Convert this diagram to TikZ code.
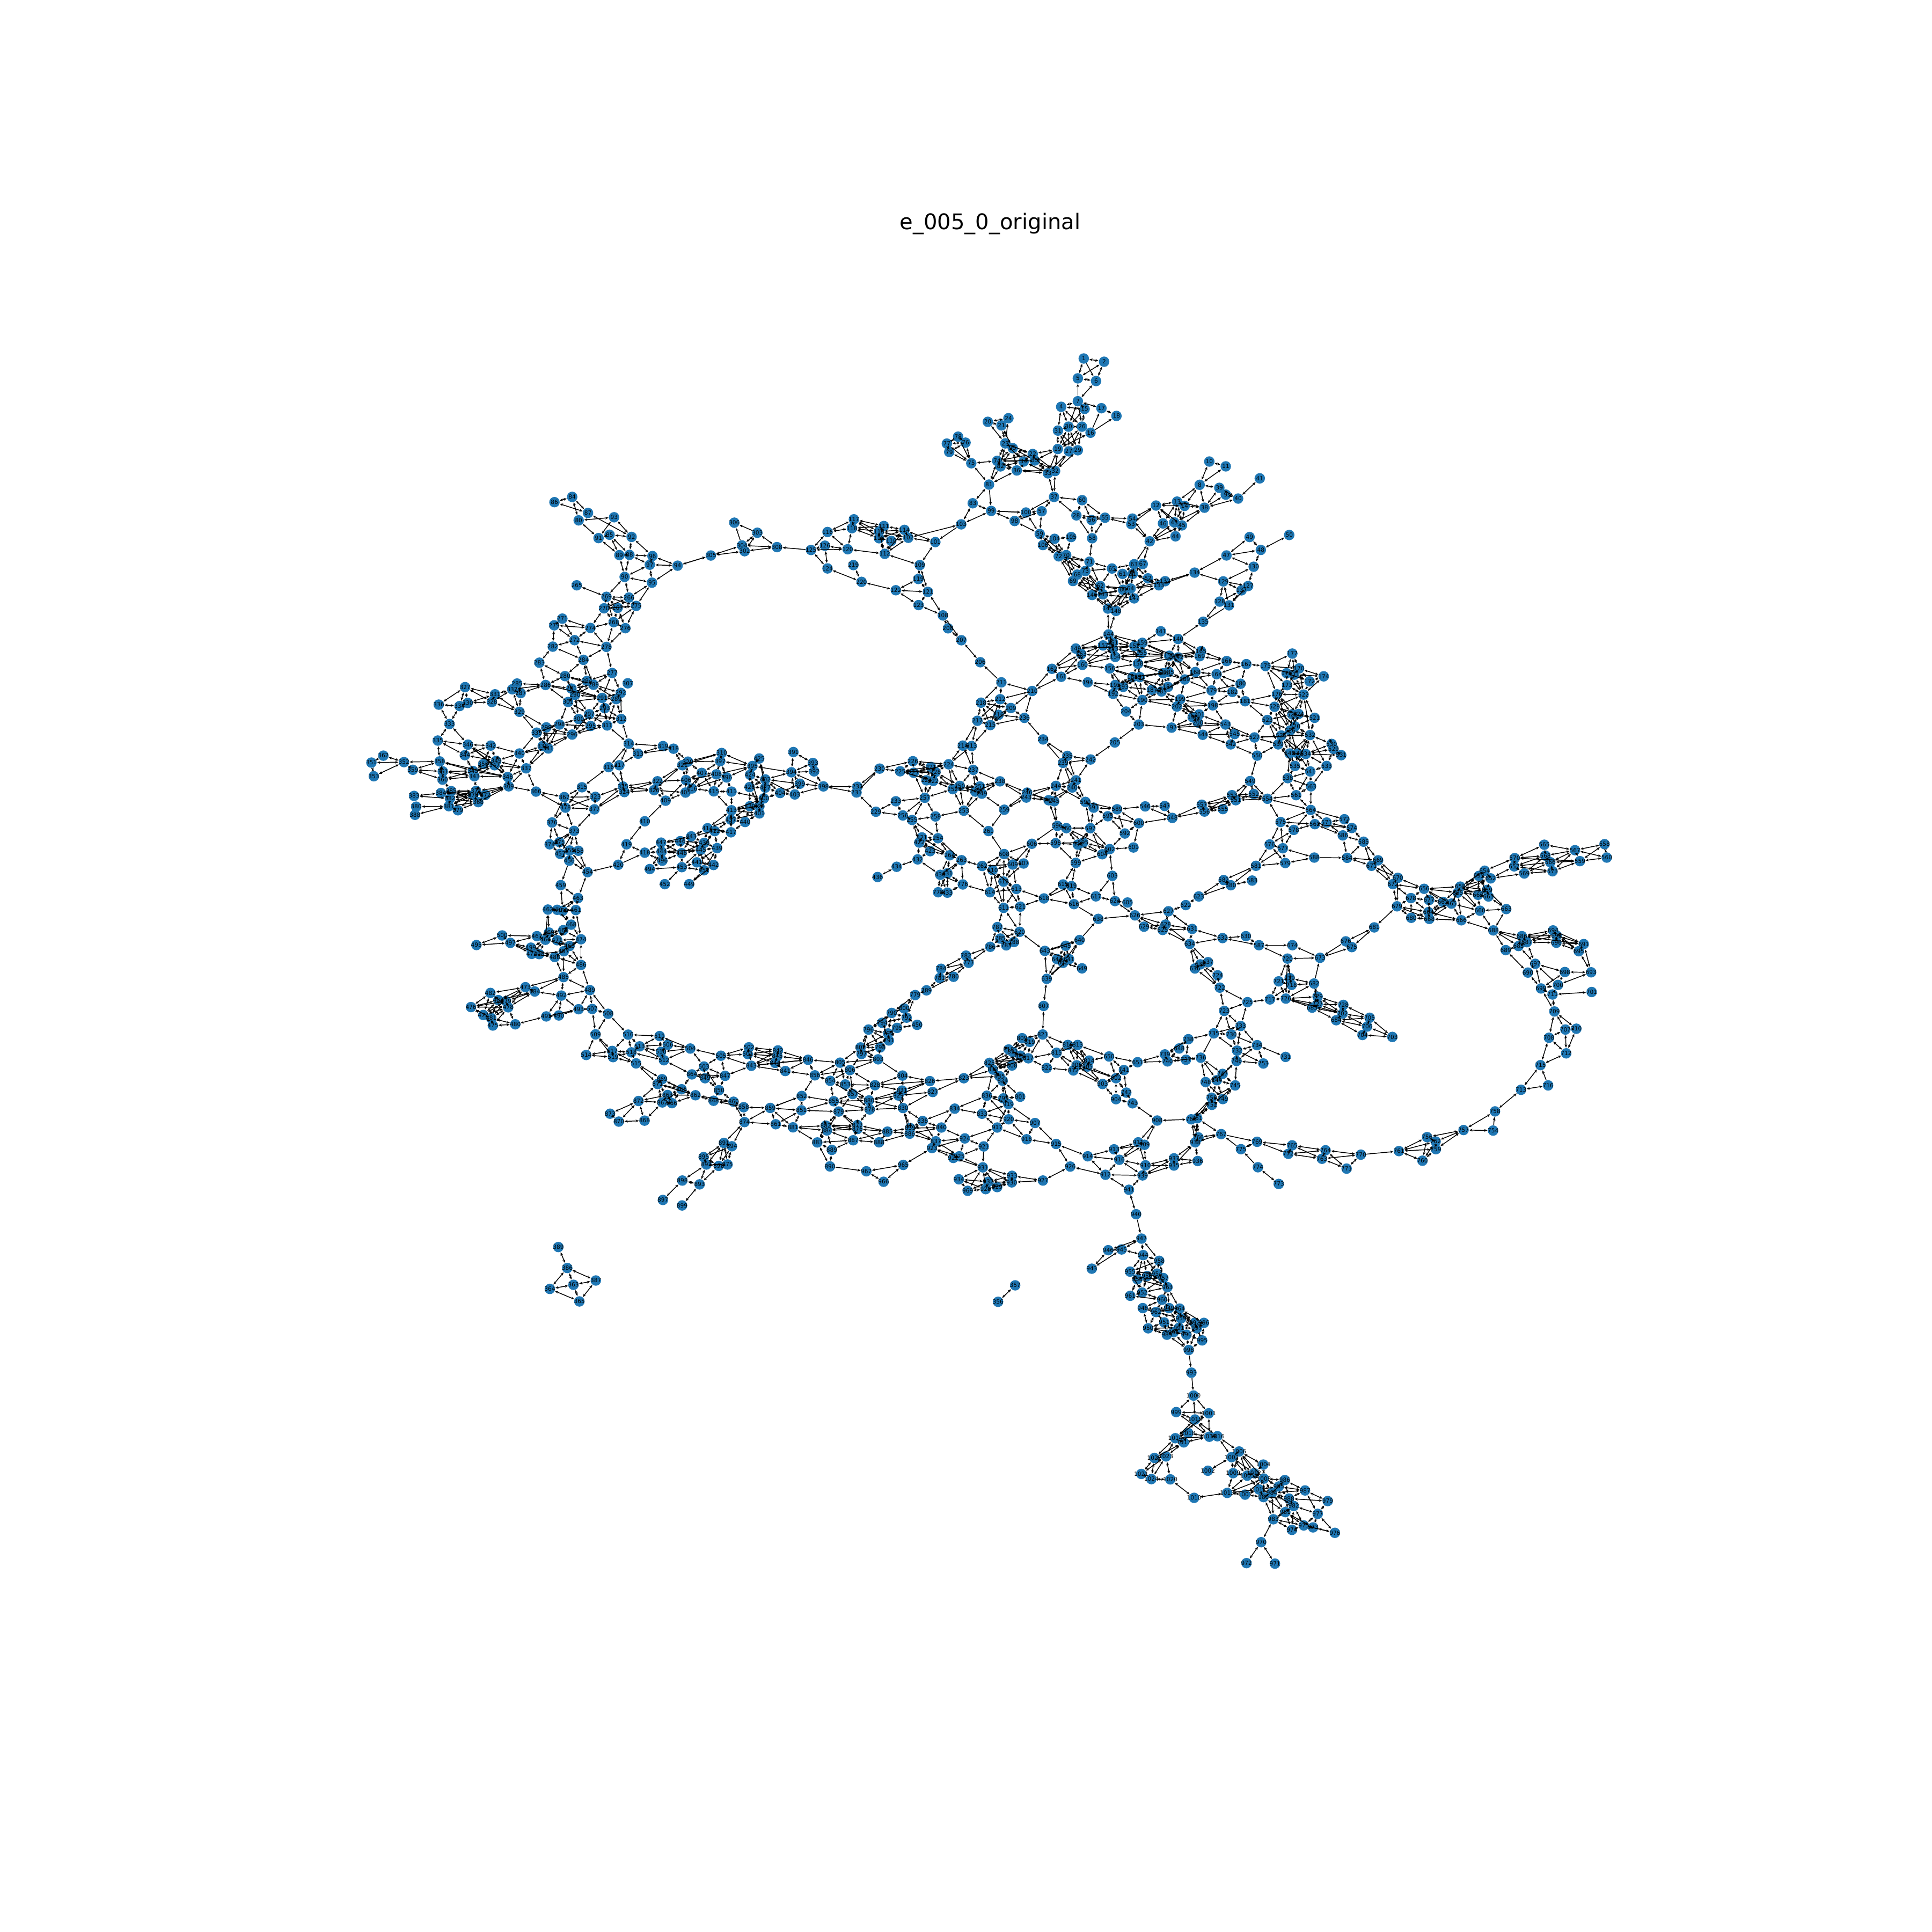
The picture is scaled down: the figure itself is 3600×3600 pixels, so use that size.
\documentclass[tikz,border=0pt]{standalone}
\usepackage{fontspec}
\setmainfont{DejaVu Sans}
\usetikzlibrary{arrows.meta}
\definecolor{CB}{RGB}{31,119,180}
\tikzset{
  vertex/.style={circle, fill=CB, inner sep=0pt, minimum size=1.95mm},
  vlabel/.style={font=\fontsize{3}{3}\selectfont, text=black, inner sep=0pt},
  link/.style={{Stealth[length=1.7pt,width=1.4pt]}-{Stealth[length=1.7pt,width=1.4pt]}, line width=0.42pt},
  onelink/.style={-{Stealth[length=1.7pt,width=1.4pt]}, line width=0.42pt}
}
\gdef\labelqueue{}
\newcommand{\vertices}[5]{%
  \foreach \id/\px/\py in {#5}{
    \node[vertex] (n\id) at ({#1+\px/#3},{#2+\py/#4}) {};
    \xdef\labelqueue{\unexpanded\expandafter{\labelqueue}\noexpand\node[vlabel] (t\id) at (n\id) {\id};}
  }}
\newcommand{\links}[2]{%
  \foreach \a/\b in {#2}{%
    \ifcsname pgf@sh@ns@n\a\endcsname\ifcsname pgf@sh@ns@n\b\endcsname
      \draw[#1] (n\a) -- (n\b);
    \fi\fi}}
\begin{document}
\begin{tikzpicture}[x=0.1mm,y=-0.1mm]
\useasboundingbox (0,0) rectangle (3600,3600);
\node[font=\fontsize{11.4}{12}\selectfont] (title) at (1845,417) {e\_005\_0\_original};

% Vertices, top
\vertices{1900}{640}{3}{3}{1/358/84,2/472/102,5/325/195,6/427/210,7/325/323,4/232/354,15/363/366,17/457/362,18/541/405,31/214/487,30/273/465,26/348/465,16/396/499,19/213/590,27/275/603,29/325/597,22/73/618,35/84/654,34/22/660,32/198/713,33/158/726,37/192/858,60/349/876,100/35/945,57/123/938,28/317/961,56/402/987,55/477/974,54/630/979,53/624/1010,58/405/1089,59/112/1065,104/195/1092,105/288/1082,106/130/1127,72/218/1190,70/260/1183,71/390/1220,73/367/1272,68/322/1292,69/298/1328,65/516/1258,63/640/1234,67/688/1233,61/575/1288,51/632/1288,52/717/1313,132/813/1329,133/778/1352,62/450/1356,66/578/1377,64/620/1370,143/465/1402,146/405/1406,147/640/1425,145/493/1482,148/538/1495,12/762/906,13/880/884,14/922/908,38/1033/918,46/801/1006,43/864/1000,45/907/1017,44/871/1078,42/727/1106,8/1006/790,10/1060/660,11/1152/687,39/1116/807,9/1152/845,40/1221/867,41/1342/754,47/1156/1185,48/1348/1154,49/1285/1082,130/1308/1248,134/978/1281,129/1138/1330,127/1277/1356,137/1240/1380,128/1118/1443,131/1170/1464}
% Vertices, right middle
\vertices{2000}{800}{2.24}{2.24}{50/901/441,135/542/803,144/147/856,141/365/843,140/437/875,159/288/891,151/165/890,152/255/905,157/124/902,149/10/915,153/165/916,154/175/950,155/285/934,163/33/938,150/400/945,142/438/952,165/533/926,169/527/947,158/270/978,160/38/983,166/640/967,167/722/980,175/802/988,177/914/936,170/942/998,174/1045/1031,178/890/1018,171/922/1024,172/986/1052,173/892/1068,156/152/998,168/509/1013,164/598/1022,186/375/1018,185/398/1013,188/247/1034,191/277/1034,194/60/1056,195/175/1067,193/208/1075,189/465/1044,180/698/1062,184/395/1075,187/328/1087,183/368/1094,192/166/1104,179/577/1090,182/664/1096,176/850/1106,522/961/1107,190/288/1130,199/446/1127,181/717/1135,202/432/1157,198/582/1152,528/840/1158,201/525/1190,196/498/1202,200/520/1224,204/220/1178,203/273/1232,197/410/1245,523/810/1213,525/914/1190,524/940/1188,521/1007/1204,543/635/1232,520/925/1240,526/905/1257,544/540/1275,545/673/1272,527/756/1286,536/868/1278,532/988/1276,530/1078/1313,529/1086/1334,531/1118/1360,542/657/1315,539/855/1315,550/767/1362,540/903/1353,537/937/1353,534/970/1355,533/1057/1405,535/925/1405,541/989/1428,538/895/1456,205/173/1307,242/72/1378,549/738/1468,563/992/1490,553/662/1527,552/753/1522,551/678/1548,554/810/1542,561/930/1527}
% Vertices, centre
\vertices{1600}{1100}{2.613}{2.613}{108/410/122,208/435/185,207/500/243,206/592/350,211/695/448,210/845/490,162/941/382,161/986/421,212/689/530,218/596/547,209/741/573,216/681/606,236/807/621,217/578/635,215/641/656,234/898/726,214/507/756,213/550/758,235/1016/806,239/995/840,224/438/847,226/264/832,221/352/860,228/374/885,225/202/881,227/268/888,230/102/868,237/558/874,223/330/925,222/363/928,238/688/930,241/1058/925,244/960/952,240/1040/960,250/492/952,251/590/955,252/458/968,248/568/980,249/600/990,246/820/985,243/816/1009,247/925/1022,245/952/1027,257/322/1010,233/181/1027,229/84/1078,253/512/1073,259/709/1068,590/1104/1030,591/1144/1058,589/1258/1066,546/1395/1052,547/1490/1050,548/1527/1108,593/1213/1100,600/1364/1134,256/215/1096,258/374/1101,255/260/1118,596/967/1147,260/1011/1158,597/1128/1158,592/1296/1184,261/632/1172,421/308/1203,254/386/1207,422/295/1228,606/843/1234,598/959/1231,594/1067/1238,595/1093/1228,602/1222/1260,601/1338/1252,423/348/1270,264/443/1290,608/708/1284,604/1186/1285,263/501/1314,432/287/1310,262/601/1342,609/750/1335,607/803/1330,434/185/1346,599/1057/1327,610/652/1362,436/92/1396,430/397/1385,431/432/1378,603/1235/1390,612/705/1418,776/507/1432,615/995/1432,619/1036/1440,613/768/1454,778/387/1470,433/432/1472,614/639/1470,618/902/1500,617/1155/1490,624/1248/1513,605/1309/1520,616/1048/1528,611/706/1546,621/787/1540}
% Vertices, upper left
\vertices{1300}{640}{2.24}{2.24}{20/1211/327,24/1297/312,21/1268/342,78/1087/389,77/1040/418,76/1118/414,79/1050/453,23/1284/417,25/1315/437,75/1142/500,74/1250/490,82/1264/513,36/1332/530,81/1216/589,83/1148/667,99/1225/699,103/1100/755,98/1323/741,101/992/829,117/652/734,111/777/762,118/644/771,116/542/787,113/757/785,114/863/778,115/757/813,110/808/824,102/879/811,126/531/844,125/473/862,120/626/859,112/781/878,109/927/925,119/921/983,219/650/925,124/542/939,220/684/995,122/827/1030,121/961/1037,123/922/1092,306/153/748,303/249/790,304/185/843,302/196/867,308/331/850,305/55/885}
% Vertices, left
\vertices{680}{900}{2.24}{2.24}{84/865/58,86/791/80,87/931/125,80/892/156,93/1040/143,85/1021/216,92/1113/225,91/975/230,89/1062/301,88/1104/300,96/1200/305,97/1189/341,94/1305/345,90/1084/392,95/1198/416,265/884/427,269/1008/475,266/1102/478,275/1132/513,270/998/523,267/1055/521,271/824/566,268/1038/581,273/790/594,274/941/605,276/1087/606,272/875/656,278/1008/684,282/784/683,284/912/738,283/728/750,277/1032/793,280/835/806,307/1097/836,294/927/826,288/954/842,285/635/837,286/754/843,327/418/852,281/862/858,332/615/861,287/650/877,292/1068/876,331/543/882,290/877/884,291/990/897,289/1049/902,328/530/914,330/429/918,336/308/925,334/395/931,301/848/914,293/1001/940,329/645/955,297/936/965,300/892/985,312/1070/985,333/353/1006,298/812/1008,295/942/1014,311/1011/1012,299/757/1020,339/717/1042,296/865/1050,335/304/1075,346/430/1092,314/1101/1088,342/525/1096,338/742/1098,341/765/1108,319/1244/1098,318/1288/1109,313/1140/1130,344/417/1136,340/645/1129,310/1489/1127,362/77/1138,320/1348/1163,397/1483/1161,351/27/1167,352/163/1165,358/312/1162,349/548/1160,350/494/1173,321/1325/1178,347/541/1178,317/1062/1178,316/1017/1186,337/673/1191,359/200/1197,361/325/1204,345/451/1202,407/1406/1210,408/1467/1216,396/1510/1229,353/37/1224,343/457/1224,348/596/1227,360/324/1238,322/1221/1245,406/1340/1240,369/600/1266,325/1077/1267,315/906/1270,371/464/1285,416/1365/1275,366/714/1288,415/1456/1287,411/1530/1288,385/360/1286,384/317/1294,326/1207/1282,324/1083/1290,405/1338/1292,370/452/1303,372/503/1302,383/205/1306,382/355/1317,367/832/1311,323/962/1310,409/1255/1326,368/473/1332,381/350/1349,380/214/1351,378/837/1355,377/958/1362,413/1530/1366,379/388/1366,388/209/1385,410/1168/1412,437/1527/1405,376/781/1417,414/1430/1441,412/1460/1453,373/873/1452,417/1528/1458,443/1362/1475,446/1316/1495,438/1416/1502,447/1236/1501,375/812/1499,374/771/1508,419/1092/1508,439/1470/1524,445/1402/1531,458/891/1535,455/854/1534,444/1238/1539,418/1168/1543,448/1322/1545,457/815/1548}
\vertices{1300}{1340}{3}{3}{425/344/220,395/306/262,391/535/184,393/644/245,394/524/297,392/651/292,424/293/311,402/378/337,399/571/361,398/703/376,426/290/380,427/378/383,404/461/413,403/543/421,400/370/443,429/292/487,428/345/487,401/345/527,440/265/575,232/893/378,231/888/410}
% Vertices, lower left
\vertices{800}{1560}{1.96}{2.24}{456/511/98,454/578/146,420/690/115,496/851/98,494/805/133,453/922/125,441/977/105,442/1038/116,451/1003/138,452/860/196,449/949/196,459/480/200,463/543/254,462/433/302,470/467/303,460/487/307,461/535/304,468/518/365,466/489/388,469/437/398,467/393/413,500/266/410,464/424/428,471/467/430,474/554/426,497/296/441,495/172/450,465/512/454,499/371/461,487/491/476,472/374/487,498/401/488,488/458/500,486/554/533,485/490/584,473/351/626,484/385/644,489/586/638,482/223/650,492/482/661,483/252/680,479/280/684,478/288/710,476/152/709,477/197/742,493/545/718,507/595/717,508/653/737,490/473/744,491/427/748,481/226/755,480/314/781,475/232/786,509/607/823,516/726/824,511/841/830,506/871/866,513/768/873,504/953/882,502/1167/877,842/1273/890,517/668/892,518/738/898,510/846/896,501/1163/905,845/1271/914,505/1065/912,514/573/909,519/671/918,512/857/931,846/1383/929,805/1500/941,515/755/944,844/1263/942,843/1176/954,503/1003/957,806/1536/972,841/1300/976,864/959/990,847/1080/996,856/1408/994,849/1007/1006,869/850/1010,871/834/1030,854/1464/1017,853/1519/1032,865/921/1052,850/1058/1056,863/870/1076,862/972/1077,857/1546/1072,852/1360/1080,848/1038/1100,860/1111/1104,872/764/1101,855/1477/1102,867/851/1107,866/886/1110,858/1148/1127,859/1245/1130,851/1359/1140,879/1495/1145,873/660/1154,870/692/1187,868/786/1183,874/1151/1189,861/1265/1198,881/1328/1211,882/1448/1204,884/1452/1224,883/1417/1274,887/1548/1265,889/1470/1305,891/1076/1276,894/1105/1290,895/1002/1335,892/1012/1366,896/1057/1372,875/1089/1366,890/1463/1374,898/924/1433,893/987/1449,897/853/1514,899/923/1537}
% Vertices, lower centre
\vertices{1550}{1680}{2.24}{2.613}{620/784/147,787/691/124,785/703/180,788/760/197,786/661/220,783/728/213,638/1112/84,626/1265/67,627/1405/47,622/1477/17,629/1303/122,628/1393/112,625/1381/138,631/1504/133,634/1494/206,640/1034/187,645/976/215,643/889/240,644/940/280,641/990/280,642/965/298,649/1044/325,782/560/263,777/571/298,784/456/327,781/450/372,780/508/366,639/897/376,789/395/432,779/348/455,807/884/508,800/302/520,790/250/542,792/312/565,794/210/590,450/356/600,795/272/615,796/153/623,793/235/642,821/880/647,809/794/665,819/826/683,791/238/676,738/1488/670,802/120/710,798/202/710,816/985/698,813/1026/698,648/1450/715,818/738/720,811/755/732,797/124/742,739/1390/744,820/787/750,817/820/763,803/193/768,815/938/736,814/1074/774,650/1157/754,736/1540/760,740/1401/778,737/1478/770,651/1276/782,825/658/785,808/752/798,822/897/810,906/1022/797,905/1067/803,741/1219/820,832/673/818,812/1008/822,835/700/850,804/295/847,902/1186/860,823/551/860,824/713/872,826/409/874,903/1130/888,828/180/894,831/293/920,827/421/927,742/1229/930,829/278/944,836/647/945,799/716/958,801/786/950,904/1186/962,743/1255/982,880/155/968,919/737/986,830/297/1005,878/158/1012,833/627/1033,834/513/1008,920/738/1060,907/848/1078,908/1358/1066,768/1500/1060,751/1525/1055,838/379/1068,877/107/1088,840/457/1100,917/690/1100,839/327/1103,876/107/1107,885/232/1120,886/325/1130,918/813/1157,766/1530/1148,924/555/1153,888/197/1172,837/434/1167,915/936/1180,911/1279/1172,909/1305/1184,938/1517/1172,921/634/1192,923/418/1200,913/1178/1206,914/1068/1240,925/532/1240,922/507/1248,916/1200/1257,937/1428/1250,936/1527/1263,935/1428/1285,910/1309/1284,965/298/1282,926/995/1290,931/630/1294,967/144/1313,912/1142/1330,939/1297/1333,933/752/1335,934/530/1352,927/881/1358,932/653/1364,930/751/1367,966/216/1364,941/1240/1403,969/567/1408,928/642/1400,929/690/1390,940/1270/1522}
% Vertices, lower right
\vertices{2200}{1450}{1.96}{1.96}{557/77/97,556/87/122,555/154/113,564/475/116,572/598/150,575/365/160,571/533/162,562/490/168,574/625/182,578/413/189,586/592/209,585/668/232,576/325/242,577/373/256,565/1328/243,588/488/290,584/608/291,570/1220/292,567/1440/263,558/1548/241,560/1556/290,568/1332/283,566/1350/307,559/1458/303,669/721/300,579/382/310,581/275/320,671/697/320,654/1110/338,657/1218/322,569/1255/348,573/1358/340,670/793/364,653/1089/357,652/1132/366,582/157/372,583/261/374,580/183/391,672/775/387,656/889/404,658/1021/396,655/1012/418,659/1119/408,662/1086/426,661/1124/432,623/66/432,678/841/438,677/907/445,667/958/452,665/989/458,679/790/468,663/1189/478,660/1093/484,664/905/489,680/842/510,668/908/514,666/1025/519,681/707/545,688/1142/556,630/238/577,632/153/584,686/1246/577,694/1360/556,692/1373/575,676/603/596,691/1472/606,696/1372/601,687/1264/599,587/286/610,674/408/610,675/625/617,685/1234/613,689/1187/628,695/1454/632,720/390/659,673/509/656,637/100/672,635/72/680,636/52/695,697/1295/678,690/1268/710,698/1403/708,693/1499/709,724/135/720,719/398/730,721/358/742,682/487/750,718/405/755,700/1378/755,722/143/765,699/1316/768,711/1358/790,701/1501/781,729/500/798,717/326/808,726/384/805,725/244/818,727/500/825,728/594/828,683/480/838,723/159/850,709/1365/852,702/591/860,705/690/875,684/568/884,733/219/905,706/681/907,710/1445/915,707/1405/918,735/121/932,730/185/936,704/664/938,703/773/945,708/1345/948,734/279/975,732/206/995,712/1408/1005,731/383/1018,746/204/1033,753/302/1042,715/1314/1048,747/153/1080,744/132/1103,748/91/1110,716/1342/1122,745/199/1122,713/1243/1138,750/113/1167,749/154/1172,752/114/1193,758/1148/1217,767/148/1300,757/1033/1285,754/1141/1287,756/900/1311,762/931/1327,769/279/1328,765/407/1341,764/529/1359,759/932/1355,761/797/1362,772/393/1372,770/658/1375,775/220/1355,763/516/1390,760/883/1397,771/606/1426,774/282/1421,773/358/1482}
% Vertices, bottom
\vertices{2000}{2240}{3}{2.178}{947/381/148,945/270/192,946/195/195,944/390/215,958/480/238,943/103/270,955/317/282,954/468/290,956/412/300,957/503/308,953/358/313,963/526/345,952/385/367,961/318/380,960/496/396,949/535/430,964/594/432,948/388/430,962/462/446,959/602/472,951/508/488,992/678/490,996/730/490,991/590/510,997/690/512,950/418/512,994/560/528,989/523/538,990/632/538,995/720/561,998/645/600,993/660/692,1000/672/785,999/575/852,1001/757/857,1015/680/882,1018/642/937,1014/570/958,1019/760/952,1016/805/950,1017/617/975,1006/927/1012,1022/453/1038,1023/518/1032,1003/885/1035,1004/1062/1065,1002/752/1090,1021/380/1103,1009/893/1100,1012/1010/1100,1005/972/1110,1008/1065/1122,1024/436/1124,1020/542/1125,986/1182/1128,985/1148/1154,1011/1038/1166,984/1110/1180,987/1295/1170,1013/860/1180,1007/960/1187,1010/675/1200,980/1063/1197,988/1205/1203,979/1422/1213,982/1232/1233,981/1185/1258,977/1366/1265,983/1118/1287,975/1288/1312,973/1340/1320,974/1222/1330,976/1462/1342,970/1050/1380,972/968/1465,971/1127/1467}
\vertices{1000}{2280}{1.633}{3}{389/66/131,386/93/248,387/180/318,363/112/342,364/40/365,365/130/435,357/1456/345,356/1404/437}

% One way connectors
\links{onelink}{1/6,7/5,16/17,16/18,81/99,125/308,303/306,304/306,211/206,239/234,259/261,608/261,596/606,588/584,640/638,616/638,754/758,716/715,770/761,676/673,682/673,735/736,998/993,993/1000,940/947,410/409,420/418,456/459,890/967,803/804,921/931,767/769,775/767,774/775,94/305,103/101,131/135}

% Connectors, top
\links{link}{1/2,1/5,2/5,2/6,5/6,6/7,7/4,7/15,7/17,4/15,4/31,4/30,4/26,7/30,15/30,15/26,7/26,30/31,30/26,31/19,31/27,31/29,30/19,30/27,30/29,26/27,26/29,26/19,16/19,17/18,19/22,19/35,19/33,19/32,27/32,29/32,27/33,22/33,35/33,35/32,34/33,22/32,32/37,33/37,37/60,37/28,37/100,37/57,57/59,57/100,100/59,100/99,100/98,60/28,60/56,60/55,28/56,28/58,28/55,56/55,56/58,55/58,55/54,55/53,54/12,53/12,54/42,53/42,12/13,12/14,12/46,12/43,12/45,13/14,13/38,14/38,13/43,13/45,13/46,14/43,14/45,38/43,38/45,46/42,43/42,45/42,44/42,43/44,45/44,46/44,8/13,8/14,8/38,8/10,8/11,10/11,8/39,39/38,9/38,40/38,9/40,39/40,40/41,42/63,42/67,59/104,59/106,59/72,59/70,104/105,104/106,104/72,104/70,105/70,106/72,106/70,70/71,72/71,70/73,72/73,70/68,70/69,72/68,72/69,58/71,71/65,71/73,71/62,73/65,73/62,73/146,73/143,68/62,68/146,68/143,69/143,69/146,69/62,65/63,65/61,65/66,65/62,63/61,63/51,63/66,63/64,63/52,67/52,67/51,61/66,61/64,51/66,51/64,51/52,51/133,52/64,52/132,52/133,52/147,62/66,62/64,62/143,62/146,66/143,66/64,66/146,66/147,64/133,64/147,64/132,143/146,143/147,143/145,143/148,146/145,146/148,66/145,66/148,64/145,64/148,147/145,147/148,133/147,132/134,133/134,134/47,134/129,47/48,47/49,48/49,48/50,48/130,130/47,130/129,130/127,129/127,129/137,129/128,129/131,127/131,137/128,137/131,128/135,135/140,145/144,148/144,20/21,20/24,20/23,21/23,21/25,24/23,23/25,23/74,23/82,23/34,23/22,25/74,25/82,25/34,25/35,25/22,25/36,74/82,74/34,74/35,74/36,74/22,82/34,82/36,82/81,74/81,36/34,36/81,36/33,36/32,34/35,34/22,34/33,35/22,75/74,75/81,75/76,75/77,75/78,75/79,76/77,76/78,76/79,77/78,77/79,81/83,83/99,83/103,99/103,99/100,99/98,98/59,98/57,103/102,101/102,101/114,101/109,109/112,109/119,109/121,119/121,119/122,121/122,121/123,121/108,122/123,123/108,108/208,108/207,208/207,207/206,102/114,102/110,102/112,102/113,114/111,114/113,114/110,114/115,114/112,111/117,111/118,111/113,111/115,113/117,113/118,113/115,113/110,115/118,115/117,115/110,115/112,110/112,113/112,117/118,117/116,118/116,116/125,116/120,118/120,120/112,120/126,120/125,126/125,126/124,125/124,124/220,220/219,220/122,308/304,308/302,308/303,303/304,303/302,304/305,302/305,305/94}

% Connectors, left
\links{link}{84/86,84/87,84/80,86/87,87/92,80/93,80/91,93/91,93/92,85/92,85/91,85/89,85/88,91/89,92/88,92/96,89/88,88/96,88/97,89/90,88/90,96/97,96/94,97/94,97/95,97/90,90/95,95/94,90/269,90/266,95/266,95/275,269/265,269/266,269/275,269/270,269/267,269/268,266/270,266/267,266/275,275/270,275/267,275/268,275/276,270/267,270/268,270/274,267/268,267/276,268/276,268/274,268/278,276/278,274/271,274/273,274/272,274/278,271/273,271/272,273/272,273/282,272/282,272/278,272/284,278/284,278/277,282/283,282/284,283/286,283/280,284/280,284/294,284/288,277/294,277/288,277/292,277/291,280/286,280/294,280/281,280/290,280/288,285/286,286/287,286/332,286/281,286/301,286/291,294/281,294/290,294/288,288/281,288/290,288/291,288/292,288/289,281/290,281/291,290/301,290/291,290/300,290/297,301/291,301/300,301/298,301/297,291/292,291/289,291/293,291/297,291/311,292/289,292/312,289/293,289/312,289/311,293/297,293/311,293/312,293/295,297/300,297/295,297/311,297/312,297/296,300/298,300/295,300/296,300/312,295/311,295/296,295/298,311/312,311/296,311/314,312/314,298/299,298/339,298/296,298/338,298/341,299/339,299/338,299/341,299/296,339/338,339/296,339/341,338/341,338/296,341/296,338/340,341/340,339/340,340/342,340/349,340/337,340/348,338/337,341/337,329/339,329/299,329/287,329/332,329/331,329/328,285/287,287/332,332/331,332/328,331/327,331/328,331/330,328/330,328/327,327/334,327/330,327/336,336/334,330/334,334/333,336/333,333/335,333/346,335/346,335/344,335/358,346/342,346/344,346/349,346/347,346/348,342/344,342/349,342/350,344/349,344/345,349/350,349/347,349/337,349/348,350/347,350/345,350/343,347/345,347/343,347/348,347/337,337/348,337/369,337/366,348/345,348/343,348/358,348/369,345/343,345/358,345/361,345/360,343/361,343/360,343/371,358/352,358/359,358/361,358/360,359/352,359/361,359/360,361/360,360/385,352/351,352/362,352/353,351/362,351/353,369/366,369/372,369/368,369/370,369/371,372/371,372/370,372/368,371/370,371/368,371/385,371/384,371/382,371/381,370/385,370/384,370/382,370/381,370/379,370/368,368/385,368/382,368/381,368/379,384/385,384/383,384/382,382/383,382/381,381/380,381/388,381/379,366/367,366/378,367/315,367/323,367/378,367/377,367/376,315/323,315/316,315/378,323/377,323/325,323/378,377/324,377/325,377/378,377/373,378/373,378/376,376/373,376/374,376/375,373/374,373/375,373/455,373/457,373/458,374/457,375/457,375/455,374/375,457/455,455/458,457/456,455/456,456/454,455/454,458/454,454/420,454/463,459/463,314/319,314/313,314/316,314/317,313/319,313/318,313/317,316/317,316/325,317/325,317/324,319/318,318/321,318/320,320/321,320/310,320/397,321/310,320/407,320/406,321/406,321/322,321/326,322/406,322/325,322/326,322/324,322/409,326/325,326/324,326/405,326/409,325/324,406/405,406/407,406/408,406/416,406/409,405/409,405/407,410/419,419/418,419/420,407/397,407/408,407/416,407/415,408/397,408/396,408/415,408/416,408/395,397/310,397/395,397/396,310/395,416/415,416/396,415/411,415/396,415/413,396/395,396/411,411/413,411/400,395/425,395/394,395/424,425/402,424/402,424/426,424/427,424/428,402/394,402/427,402/403,402/404,402/399,402/400,402/426,425/427,391/394,391/393,394/393,394/392,394/399,394/398,394/403,393/392,392/398,399/398,399/403,399/404,403/398,404/403,404/400,404/427,398/232,398/231,232/230,231/229,231/230,427/426,426/429,426/428,427/400,427/428,400/429,400/428,400/401,429/428,429/401,429/413,429/437,429/440,428/401,428/413,401/413,401/437,401/440,400/413,413/437,413/440,413/417,413/414,437/440,437/417,437/414,437/412,440/417,417/412,417/414,417/439,414/412,414/438,414/443,412/438,412/439,412/443,412/445,438/439,438/445,438/443,438/446,438/448,439/445,439/441,439/442,439/451,443/446,443/448,443/445,443/447,446/447,446/444,446/448,446/445,447/444,447/448,447/418,444/448,444/418,444/445,448/445,448/453,445/441,445/442,445/451,445/453,441/442,441/451,441/453,442/451,451/453,451/449,453/452,453/494,494/496,494/444,444/496,448/496,418/496,442/449}

% Connectors, centre
\links{link}{211/210,211/212,211/218,210/212,210/209,210/236,210/161,210/162,162/161,162/149,162/163,162/160,161/160,161/163,161/194,160/163,160/149,160/157,160/153,160/154,160/156,163/149,163/157,163/154,149/144,149/157,149/152,144/157,144/151,144/153,144/154,144/159,144/152,157/151,157/153,151/153,151/152,153/152,153/154,153/155,154/152,154/155,154/158,154/150,157/154,152/159,152/155,152/158,152/150,159/140,159/141,159/150,159/142,155/150,155/158,158/150,158/142,158/156,158/188,158/191,158/186,158/185,156/188,156/195,156/193,156/191,194/195,194/192,195/193,195/192,195/188,195/191,193/192,193/188,193/191,193/190,193/187,192/190,192/204,188/191,188/190,188/186,188/185,188/184,191/186,191/185,191/190,191/187,191/183,186/185,186/184,186/187,186/183,186/150,186/142,186/189,185/184,185/150,185/142,185/189,184/187,184/183,184/189,184/168,187/183,187/190,183/190,183/199,183/202,183/189,190/203,190/204,190/199,190/202,204/203,203/197,203/205,205/242,242/235,242/239,242/241,235/239,235/234,234/236,236/209,236/216,236/215,212/218,212/209,212/216,212/217,212/215,218/209,218/216,218/217,218/215,209/216,209/215,216/217,216/215,217/215,217/214,217/213,215/213,214/213,214/224,214/237,213/224,213/237,224/226,224/221,224/228,224/227,224/237,224/250,224/252,226/221,226/228,226/225,226/227,226/230,221/228,221/225,221/227,221/223,221/222,228/225,228/227,228/223,228/222,228/252,228/250,225/227,225/230,225/222,227/223,227/222,227/257,223/222,223/257,222/257,222/252,222/250,237/250,237/251,237/248,237/238,250/252,250/251,250/248,250/249,250/253,252/248,252/251,252/253,252/257,251/248,251/249,251/238,248/249,248/238,249/238,249/253,248/253,249/259,238/246,238/243,246/243,246/244,246/247,246/245,246/259,243/244,243/247,243/245,243/259,244/240,244/241,244/247,244/245,240/241,240/247,240/245,240/590,241/239,241/235,241/590,239/240,239/244,247/245,247/596,245/596,244/590,253/258,253/261,257/233,233/229,233/256,229/256,257/256,257/255,257/258,256/255,255/258,255/254,255/421,255/422,258/254,254/421,254/422,254/423,254/264,254/263,421/422,421/423,421/264,422/423,422/432,422/264,423/432,423/264,432/434,432/430,434/436,264/263,264/430,264/431,263/262,263/431,263/430,263/776,430/431,430/776,430/778,430/433,431/776,431/778,431/433,778/433,433/776,776/614,262/608,262/609,262/610,262/614,262/612,608/606,608/609,608/610,608/612,608/607,606/598,606/607,606/609,609/610,609/612,609/607,609/613,610/612,610/614,610/611,610/613,612/614,612/611,612/613,612/621,607/612,614/611,614/613,613/611,613/621,613/618,611/621,621/618,618/615,618/616,618/619,615/616,615/599,615/619,619/616,619/599,619/617,616/617,617/603,617/624,603/602,603/624,624/605,624/626,605/626,599/598,599/594,599/595,599/604,598/596,598/594,598/595,598/260,596/260,260/594,260/597,260/595,260/602,594/595,594/597,594/604,595/597,595/604,595/602,597/590,597/591,597/593,597/602,597/604,602/604,602/601,602/592,600/601,600/592,600/593,600/589,600/548,593/589,593/592,593/591,589/591,589/546,591/590,590/589,589/592,546/547,546/548,547/548,548/557,548/556}

% Connectors, right
\links{link}{140/141,140/150,140/142,140/165,140/169,150/142,150/165,150/169,150/168,150/189,142/165,142/169,142/168,142/189,165/169,165/166,169/166,169/168,168/166,168/164,168/189,168/179,164/166,164/167,164/179,164/180,164/182,166/167,167/175,167/180,180/179,180/181,180/182,179/182,179/198,179/199,179/189,182/181,182/198,181/198,181/176,181/528,181/523,189/199,189/164,199/198,199/202,199/201,199/196,199/200,202/198,202/201,202/196,202/197,198/201,198/543,201/196,201/200,201/543,196/200,196/197,200/197,200/543,200/544,197/544,197/543,544/543,544/542,544/545,543/545,543/542,543/527,545/527,545/542,542/527,542/550,527/523,527/536,527/532,527/539,527/550,539/550,550/549,549/553,549/552,549/551,549/554,553/552,553/551,553/554,552/551,552/554,551/554,554/561,554/538,554/564,554/575,553/557,551/557,551/556,551/555,553/555,553/556,557/556,557/555,556/555,175/177,175/178,175/170,175/171,175/176,175/173,177/178,177/170,177/171,170/178,170/171,170/174,170/172,170/522,174/171,174/172,174/522,178/171,178/173,178/172,178/522,171/172,171/173,171/522,172/173,172/522,173/176,173/522,173/528,176/522,176/528,176/525,176/524,176/526,528/522,528/523,528/525,528/524,528/520,528/526,528/536,522/521,522/524,522/525,522/532,521/524,521/525,521/520,521/532,524/525,524/520,524/526,525/520,525/526,525/523,520/526,520/532,520/536,526/532,526/536,526/523,526/540,526/537,523/536,523/539,536/532,536/539,536/540,536/537,536/534,532/530,532/534,532/537,532/540,532/535,532/533,530/529,530/534,529/534,529/531,529/533,534/531,534/533,534/537,534/540,534/535,534/541,537/540,537/535,537/541,540/535,540/538,540/539,539/535,533/541,533/563,541/535,541/538,541/563,541/561,538/535,538/563,538/561,563/561,561/564,563/564,564/575,564/578,564/562,564/571,564/572,575/562,575/578,575/576,575/577,562/578,562/571,562/574,562/586,571/572,571/574,571/586,572/574,574/586,574/585,586/585,586/584,585/584,585/669,585/671,584/669,584/671,578/576,578/577,576/577,576/579,576/581,577/579,577/581,577/588,579/581,579/588,581/582,581/580,580/583,582/580,582/623,580/623,623/622,622/627,669/671,669/670,669/672,671/670,671/672,670/672,670/656,672/656,672/678,672/679,670/679,679/678,679/680,679/664,679/681,679/668,678/677,678/680,678/664,678/656,677/656,677/667,677/664,677/668,656/658,656/655,656/667,656/665,667/665,667/658,667/664,667/668,665/655,665/658,665/664,665/668,665/660,665/666,664/680,664/668,664/666,680/668,668/666,666/655,666/660,666/688,660/655,660/662,660/658,660/663,660/688,663/661,663/688,663/659,661/659,661/662,661/653,662/658,662/655,662/659,662/653,659/658,659/655,659/653,659/652,658/655,658/653,658/652,658/654,655/653,655/652,653/652,653/654,654/652,654/570,652/657,652/569,657/570,657/569,657/573,657/568,657/566,570/565,570/568,570/559,565/567,565/568,568/566,568/567,568/569,566/573,566/567,566/559,566/569,569/573,573/559,573/567,567/558,567/559,567/560,559/558,559/560,558/560,688/686,688/687,688/685,688/689,686/694,686/692,686/687,686/685,686/691,687/694,687/692,687/696,687/685,687/697,685/689,685/697,689/690,694/692,694/691,694/695,692/696,692/691,692/695,696/691,696/695,691/695,695/693,691/693,693/698,693/700,697/690,697/699,697/698,697/700,690/699,698/700,698/699,700/699,700/711,699/711,699/709,711/709,711/701,709/708,709/707,709/710,707/708,707/710,707/712,710/712,708/712,708/715,712/715,715/713,713/716,713/758,758/757,757/754,757/756,757/762,757/759,756/761,756/762,756/760,762/761,762/759,762/760,759/761,759/760,761/760,770/764,770/763,770/771,764/763,764/765,764/772,764/771,763/765,763/772,763/771,765/772,765/769,772/769,769/775,773/774,681/676,681/675,675/673,673/674,673/720,674/587,587/630,587/632,587/720,630/632,632/631,632/634,631/634,631/625,631/627,631/628,634/625,634/628,634/636,634/635,634/637,636/635,636/637,635/637,636/722,635/722,637/724,635/724,724/722,722/723,722/725,723/725,725/717,725/733,723/733,723/735,723/730,720/721,720/719,720/718,720/726,719/721,719/718,719/682,721/718,721/717,721/726,718/682,718/717,718/726,717/726,726/682,726/729,726/727,726/683,726/702,682/729,682/727,729/727,729/728,729/702,729/683,727/728,727/702,727/683,683/702,683/684,728/702,728/705,702/684,702/705,702/706,684/705,684/704,684/706,705/706,705/703,706/704,706/703,704/703,733/735,733/730,733/732,733/734,735/730,735/732,735/738,730/732,730/734,732/734,732/746,734/746,734/731,734/753,732/753,746/753,746/747,746/745,746/744,736/737,736/747,736/744,736/748,736/740,737/738,737/739,737/740,738/648,738/739,739/648,739/740,739/651,740/648,740/651,651/650,651/741,650/814,650/813,650/902,650/741,741/902,741/903,741/742,742/902,742/743,742/904,743/904,743/908,904/903,904/902,903/902,903/905,903/812,903/906,902/905,902/906,905/814,905/812,905/906,905/813,905/816,906/814,906/812,906/816,906/813,814/813,814/816,813/816,813/815,816/815,816/821,815/821,815/812,815/822,815/906,815/817,812/822,822/817,821/817,821/809,821/819,821/807,807/639,639/643,639/644,639/642,639/641,643/645,643/640,643/644,643/641,643/620,645/640,645/641,645/644,645/642,640/641,640/642,644/641,644/642,641/642,641/649,642/649,638/626,620/621,620/611,620/787,620/785,620/788,620/783,787/611,787/785,787/786,787/788,785/788,785/783,785/786,788/783,783/786,786/782,786/777,782/777,782/784,777/784,777/781,777/780,784/781,784/780,781/780,781/789,780/789,789/779,779/800,779/792,779/790,800/790,800/792,790/792,790/794,790/795,790/793,790/796,792/450,792/795,792/794,795/450,794/796,794/795,794/793,794/791,795/793,795/791,793/791,793/796,793/798,793/802,796/802,796/791,796/797,796/798,791/798,791/802,798/802,798/797,798/803,802/797,802/805,802/803,797/803,797/806,805/803,805/806,805/856,805/854,805/853,803/806}

% Connectors, lower
\links{link}{806/856,806/854,806/853,806/828,806/857,804/828,804/826,804/831,826/823,826/831,826/829,826/828,827/823,827/830,827/829,828/831,828/853,828/857,828/880,831/829,831/880,831/830,829/880,829/878,829/830,830/878,830/880,830/838,830/839,830/886,880/878,880/857,880/855,880/853,878/855,878/879,878/857,878/877,857/853,857/855,857/854,857/879,853/854,854/856,854/855,855/852,855/851,855/879,852/851,852/859,852/856,851/859,851/879,851/861,851/881,879/877,879/876,879/882,879/884,877/876,877/882,877/884,877/885,877/887,876/882,876/884,876/885,876/887,876/888,882/884,882/883,882/881,884/881,884/883,884/887,884/889,883/887,883/889,883/890,883/881,887/888,887/889,887/885,889/890,888/885,888/886,885/886,885/839,967/965,967/966,965/966,965/923,838/839,838/886,838/840,838/837,838/834,839/886,839/840,839/837,886/837,886/840,840/837,840/834,840/924,837/924,837/923,837/925,923/924,923/925,923/922,924/925,924/921,924/917,925/922,925/921,925/931,922/931,921/917,917/920,917/919,917/918,917/833,918/920,918/907,918/915,907/920,907/919,907/915,920/919,920/833,920/836,919/833,919/836,919/799,919/824,836/833,836/834,836/824,836/832,836/799,833/834,799/801,799/824,801/824,824/835,824/832,824/808,824/825,835/832,835/823,835/808,835/825,823/825,823/832,825/832,825/818,825/811,825/820,825/817,825/808,832/808,832/811,832/820,832/817,818/809,818/811,818/819,818/820,811/819,811/809,811/820,811/817,809/819,820/819,820/817,820/808,808/817,817/819,915/914,915/926,914/913,914/916,914/912,913/911,913/909,913/916,911/909,911/908,911/916,911/910,909/908,909/916,909/910,916/912,916/910,916/939,910/939,910/937,910/935,926/912,926/927,912/939,912/941,939/941,939/935,939/937,941/940,935/937,935/936,935/938,937/936,937/938,936/938,938/751,938/768,938/766,938/767,766/751,766/768,766/767,768/751,751/767,751/750,751/752,768/750,768/752,768/908,750/752,750/749,750/744,750/748,750/745,752/749,752/745,749/745,749/744,749/748,744/745,744/747,744/748,747/748,747/745,931/934,931/933,931/932,931/930,931/928,931/929,931/969,933/932,933/930,933/927,933/929,930/927,930/932,930/929,930/928,932/934,932/928,932/929,932/969,934/969,934/928,928/929,928/969,626/629,626/628,626/625,626/627,627/631,627/628,629/628,629/625,628/625,459/460,463/461,463/460,463/470,461/460,461/468,461/474,461/470,460/470,460/462,462/470,462/469,462/464,470/468,460/468,468/466,468/474,468/471,466/469,466/474,466/471,466/464,466/467,469/467,469/464,469/471,467/464,467/500,467/497,464/471,464/465,464/499,464/472,464/498,471/465,471/487,471/474,465/487,465/474,465/488,465/486,487/474,487/486,487/485,487/488,487/498,488/486,488/485,488/472,488/498,488/499,474/486,486/485,486/489,485/484,485/473,485/492,485/489,473/484,473/482,473/483,473/479,473/478,484/479,484/483,484/478,484/492,482/476,482/483,482/477,482/478,483/479,483/478,483/476,483/481,483/477,479/478,479/476,479/481,479/477,478/476,478/481,478/477,478/480,478/475,476/477,476/481,477/481,477/475,481/475,481/480,475/480,480/491,491/492,491/490,490/492,490/493,491/493,492/489,492/493,489/493,489/507,489/508,493/507,507/508,507/509,508/509,508/516,509/514,509/517,509/519,514/517,514/519,517/519,517/516,517/518,519/518,519/515,517/515,518/516,518/513,518/515,518/512,516/513,516/511,513/511,513/506,513/510,513/512,511/506,511/510,511/504,506/510,506/504,510/512,510/504,512/504,512/864,504/505,504/503,505/503,505/502,505/501,505/847,505/843,503/864,503/847,503/849,503/850,864/847,864/849,864/865,847/849,847/850,847/843,849/850,850/848,850/860,515/871,515/869,869/871,869/865,869/862,871/865,871/863,871/867,871/872,871/862,865/863,865/866,865/862,865/867,863/867,863/866,863/872,863/862,867/866,867/872,867/868,866/862,862/848,862/860,848/860,848/858,860/858,860/874,858/859,858/874,859/874,859/861,859/881,859/852,872/873,872/870,872/868,873/870,870/868,874/861,874/894,874/891,861/881,891/894,891/895,891/892,891/896,891/875,894/896,894/875,894/895,895/892,895/896,892/896,892/875,892/898,892/893,896/875,896/893,898/893,898/897,893/899,502/501,502/842,502/845,502/843,501/842,501/845,501/844,843/842,843/845,843/844,843/841,843/846,842/845,842/846,845/844,845/846,844/846,844/841,846/805,846/841,846/856,841/856,495/500,495/497,497/500,497/499,497/472,497/498}

% Connectors, bottom
\links{link}{947/945,947/946,947/944,947/958,945/946,945/943,946/943,944/945,944/958,944/955,944/954,944/956,944/953,958/955,958/954,958/956,958/957,955/954,955/956,955/953,955/952,954/956,954/957,954/963,956/953,956/957,956/952,956/963,957/953,957/963,957/952,953/952,953/961,953/963,952/961,952/963,952/960,961/960,963/960,963/949,963/964,960/949,960/948,960/962,948/949,948/962,948/950,949/964,949/962,949/959,949/951,949/991,949/992,964/962,964/959,964/992,964/996,964/997,962/959,962/951,962/950,959/951,959/992,959/991,959/997,951/950,951/991,951/994,951/989,950/991,950/994,950/989,991/992,991/997,991/994,991/990,991/989,992/996,992/997,996/997,996/995,997/995,997/990,997/998,994/989,994/990,994/998,989/998,990/998,990/995,995/998,1000/999,1000/1015,1000/1001,999/1001,999/1015,999/1019,1001/1015,1001/1014,1015/1018,1015/1014,1015/1019,1015/1016,1018/1014,1018/1017,1018/1019,1014/1017,1014/1019,1017/1019,1019/1016,1019/1001,1016/1006,1016/1003,1014/1022,1014/1023,1017/1022,1017/1023,1022/1023,1022/1021,1022/1024,1023/1021,1023/1024,1023/1020,1021/1024,1024/1020,1020/1010,1010/1013,1013/1009,1013/1008,1013/1011,1013/1007,1013/1005,1009/1003,1009/1005,1009/1006,1003/1006,1003/1002,1003/1005,1003/1012,1006/1004,1006/1012,1006/1005,1006/1008,1004/1012,1004/1008,1012/1008,1012/1005,1005/1008,1005/1011,1008/1011,1008/986,1008/985,1008/984,1008/980,1008/1007,1011/1007,1011/985,1011/984,1011/980,1007/980,985/986,985/984,985/987,985/988,986/987,986/984,986/988,984/980,984/987,984/988,984/982,984/981,984/983,980/983,980/988,980/981,988/987,988/979,988/982,988/981,987/979,987/977,979/977,982/981,982/977,982/975,982/983,982/974,981/983,981/974,981/975,981/973,983/974,983/975,983/970,974/975,975/973,975/977,975/976,973/977,973/976,977/976,970/972,970/971,389/386,386/364,386/363,387/386,387/363,387/365,363/364,363/365,364/365,356/357}

% Labels on top
\labelqueue
\end{tikzpicture}
\end{document}
